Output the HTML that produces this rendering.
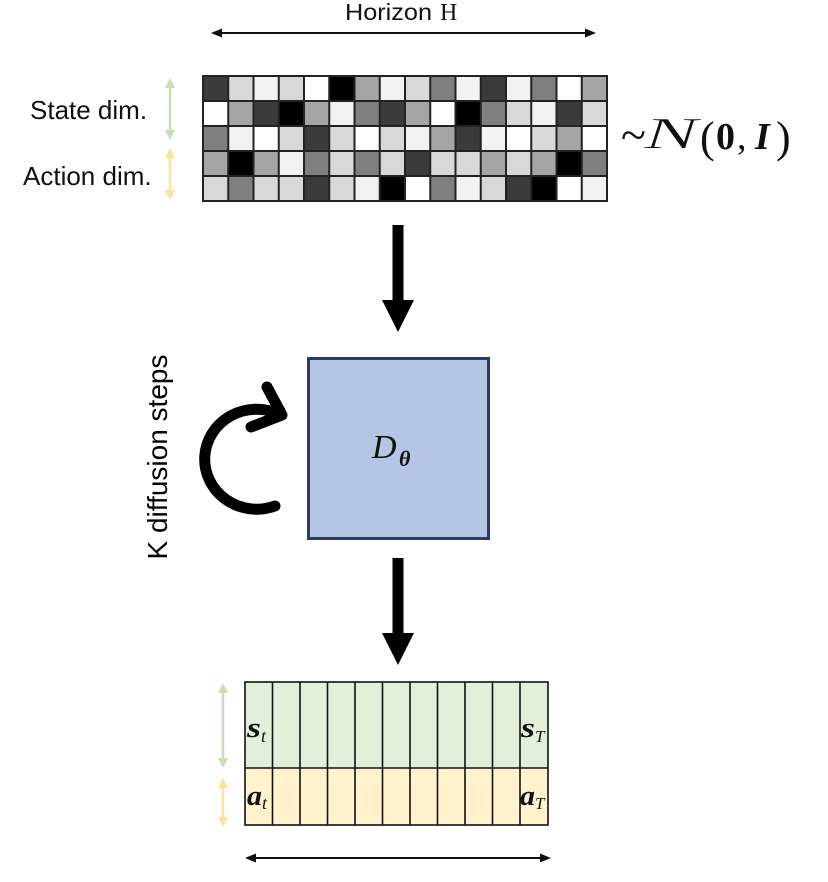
<!DOCTYPE html>
<html>
<head>
<meta charset="utf-8">
<style>
  html,body{margin:0;padding:0;background:#fff;}
  svg{display:block;}
  .sans{font-family:"Liberation Sans",Arial,sans-serif;}
  .serif{font-family:"Liberation Serif","Times New Roman",serif;}
</style>
</head>
<body>
<svg width="828" height="882" viewBox="0 0 828 882" xmlns="http://www.w3.org/2000/svg">
  <rect x="0" y="0" width="828" height="882" fill="#ffffff"/>

  <!-- Horizon H -->
  <text class="sans" x="345" y="20" font-size="23" fill="#111" textLength="87" lengthAdjust="spacingAndGlyphs">Horizon</text>
  <text class="serif" x="440" y="20" font-size="24" fill="#111">H</text>
  <line x1="219" y1="33" x2="588" y2="33" stroke="#111" stroke-width="2"/>
  <polygon points="211,33 222,28.5 222,37.5" fill="#111"/>
  <polygon points="596,33 585,28.5 585,37.5" fill="#111"/>

  <!-- Left labels -->
  <text class="sans" x="30" y="119" font-size="26" fill="#111">State dim.</text>
  <text class="sans" x="23" y="185" font-size="26" fill="#111">Action dim.</text>

  <!-- green double arrow -->
  <line x1="170" y1="86" x2="170" y2="132" stroke="#c5e0b4" stroke-width="2.5"/>
  <polygon points="170,78 165,88 175,88" fill="#c5e0b4"/>
  <polygon points="170,140 165,130 175,130" fill="#c5e0b4"/>
  <!-- yellow double arrow -->
  <line x1="170" y1="156" x2="170" y2="192" stroke="#fde39a" stroke-width="2.5"/>
  <polygon points="170,148 165,158 175,158" fill="#fde39a"/>
  <polygon points="170,200 165,190 175,190" fill="#fde39a"/>

  <!-- Noise grid -->
  <g>
    <rect x="203" y="76" width="25.5" height="25" fill="#3b3b3b"/>
    <rect x="228.25" y="76" width="25.5" height="25" fill="#d8d8d8"/>
    <rect x="253.5" y="76" width="25.5" height="25" fill="#f2f2f2"/>
    <rect x="278.75" y="76" width="25.5" height="25" fill="#d8d8d8"/>
    <rect x="304" y="76" width="25.5" height="25" fill="#ffffff"/>
    <rect x="329.25" y="76" width="25.5" height="25" fill="#000000"/>
    <rect x="354.5" y="76" width="25.5" height="25" fill="#a5a5a5"/>
    <rect x="379.75" y="76" width="25.5" height="25" fill="#f2f2f2"/>
    <rect x="405" y="76" width="25.5" height="25" fill="#d8d8d8"/>
    <rect x="430.25" y="76" width="25.5" height="25" fill="#7f7f7f"/>
    <rect x="455.5" y="76" width="25.5" height="25" fill="#f2f2f2"/>
    <rect x="480.75" y="76" width="25.5" height="25" fill="#3b3b3b"/>
    <rect x="506" y="76" width="25.5" height="25" fill="#f2f2f2"/>
    <rect x="531.25" y="76" width="25.5" height="25" fill="#7f7f7f"/>
    <rect x="556.5" y="76" width="25.5" height="25" fill="#ffffff"/>
    <rect x="581.75" y="76" width="25.25" height="25" fill="#a5a5a5"/>

    <rect x="203" y="101" width="25.5" height="25" fill="#ffffff"/>
    <rect x="228.25" y="101" width="25.5" height="25" fill="#a5a5a5"/>
    <rect x="253.5" y="101" width="25.5" height="25" fill="#3b3b3b"/>
    <rect x="278.75" y="101" width="25.5" height="25" fill="#000000"/>
    <rect x="304" y="101" width="25.5" height="25" fill="#a5a5a5"/>
    <rect x="329.25" y="101" width="25.5" height="25" fill="#f2f2f2"/>
    <rect x="354.5" y="101" width="25.5" height="25" fill="#7f7f7f"/>
    <rect x="379.75" y="101" width="25.5" height="25" fill="#3b3b3b"/>
    <rect x="405" y="101" width="25.5" height="25" fill="#a5a5a5"/>
    <rect x="430.25" y="101" width="25.5" height="25" fill="#ffffff"/>
    <rect x="455.5" y="101" width="25.5" height="25" fill="#000000"/>
    <rect x="480.75" y="101" width="25.5" height="25" fill="#7f7f7f"/>
    <rect x="506" y="101" width="25.5" height="25" fill="#d8d8d8"/>
    <rect x="531.25" y="101" width="25.5" height="25" fill="#f2f2f2"/>
    <rect x="556.5" y="101" width="25.5" height="25" fill="#3b3b3b"/>
    <rect x="581.75" y="101" width="25.25" height="25" fill="#d8d8d8"/>

    <rect x="203" y="126" width="25.5" height="25" fill="#7f7f7f"/>
    <rect x="228.25" y="126" width="25.5" height="25" fill="#f2f2f2"/>
    <rect x="253.5" y="126" width="25.5" height="25" fill="#ffffff"/>
    <rect x="278.75" y="126" width="25.5" height="25" fill="#d8d8d8"/>
    <rect x="304" y="126" width="25.5" height="25" fill="#3b3b3b"/>
    <rect x="329.25" y="126" width="25.5" height="25" fill="#d8d8d8"/>
    <rect x="354.5" y="126" width="25.5" height="25" fill="#ffffff"/>
    <rect x="379.75" y="126" width="25.5" height="25" fill="#d8d8d8"/>
    <rect x="405" y="126" width="25.5" height="25" fill="#f2f2f2"/>
    <rect x="430.25" y="126" width="25.5" height="25" fill="#a5a5a5"/>
    <rect x="455.5" y="126" width="25.5" height="25" fill="#3b3b3b"/>
    <rect x="480.75" y="126" width="25.5" height="25" fill="#f2f2f2"/>
    <rect x="506" y="126" width="25.5" height="25" fill="#ffffff"/>
    <rect x="531.25" y="126" width="25.5" height="25" fill="#d8d8d8"/>
    <rect x="556.5" y="126" width="25.5" height="25" fill="#a5a5a5"/>
    <rect x="581.75" y="126" width="25.25" height="25" fill="#ffffff"/>

    <rect x="203" y="151" width="25.5" height="25" fill="#a5a5a5"/>
    <rect x="228.25" y="151" width="25.5" height="25" fill="#000000"/>
    <rect x="253.5" y="151" width="25.5" height="25" fill="#a5a5a5"/>
    <rect x="278.75" y="151" width="25.5" height="25" fill="#f2f2f2"/>
    <rect x="304" y="151" width="25.5" height="25" fill="#7f7f7f"/>
    <rect x="329.25" y="151" width="25.5" height="25" fill="#d8d8d8"/>
    <rect x="354.5" y="151" width="25.5" height="25" fill="#7f7f7f"/>
    <rect x="379.75" y="151" width="25.5" height="25" fill="#d8d8d8"/>
    <rect x="405" y="151" width="25.5" height="25" fill="#3b3b3b"/>
    <rect x="430.25" y="151" width="25.5" height="25" fill="#d8d8d8"/>
    <rect x="455.5" y="151" width="25.5" height="25" fill="#d8d8d8"/>
    <rect x="480.75" y="151" width="25.5" height="25" fill="#a5a5a5"/>
    <rect x="506" y="151" width="25.5" height="25" fill="#d8d8d8"/>
    <rect x="531.25" y="151" width="25.5" height="25" fill="#a5a5a5"/>
    <rect x="556.5" y="151" width="25.5" height="25" fill="#000000"/>
    <rect x="581.75" y="151" width="25.25" height="25" fill="#7f7f7f"/>

    <rect x="203" y="176" width="25.5" height="25" fill="#d8d8d8"/>
    <rect x="228.25" y="176" width="25.5" height="25" fill="#7f7f7f"/>
    <rect x="253.5" y="176" width="25.5" height="25" fill="#d8d8d8"/>
    <rect x="278.75" y="176" width="25.5" height="25" fill="#d8d8d8"/>
    <rect x="304" y="176" width="25.5" height="25" fill="#3b3b3b"/>
    <rect x="329.25" y="176" width="25.5" height="25" fill="#d8d8d8"/>
    <rect x="354.5" y="176" width="25.5" height="25" fill="#f2f2f2"/>
    <rect x="379.75" y="176" width="25.5" height="25" fill="#000000"/>
    <rect x="405" y="176" width="25.5" height="25" fill="#ffffff"/>
    <rect x="430.25" y="176" width="25.5" height="25" fill="#7f7f7f"/>
    <rect x="455.5" y="176" width="25.5" height="25" fill="#f2f2f2"/>
    <rect x="480.75" y="176" width="25.5" height="25" fill="#d8d8d8"/>
    <rect x="506" y="176" width="25.5" height="25" fill="#3b3b3b"/>
    <rect x="531.25" y="176" width="25.5" height="25" fill="#000000"/>
    <rect x="556.5" y="176" width="25.5" height="25" fill="#ffffff"/>
    <rect x="581.75" y="176" width="25.25" height="25" fill="#f2f2f2"/>
  </g>
  <g stroke="#222" stroke-width="2" fill="none">
    <rect x="203" y="76" width="404" height="125"/>
    <line x1="203" y1="101" x2="607" y2="101"/>
    <line x1="203" y1="126" x2="607" y2="126"/>
    <line x1="203" y1="151" x2="607" y2="151"/>
    <line x1="203" y1="176" x2="607" y2="176"/>
    <line x1="228.25" y1="76" x2="228.25" y2="201"/>
    <line x1="253.5" y1="76" x2="253.5" y2="201"/>
    <line x1="278.75" y1="76" x2="278.75" y2="201"/>
    <line x1="304" y1="76" x2="304" y2="201"/>
    <line x1="329.25" y1="76" x2="329.25" y2="201"/>
    <line x1="354.5" y1="76" x2="354.5" y2="201"/>
    <line x1="379.75" y1="76" x2="379.75" y2="201"/>
    <line x1="405" y1="76" x2="405" y2="201"/>
    <line x1="430.25" y1="76" x2="430.25" y2="201"/>
    <line x1="455.5" y1="76" x2="455.5" y2="201"/>
    <line x1="480.75" y1="76" x2="480.75" y2="201"/>
    <line x1="506" y1="76" x2="506" y2="201"/>
    <line x1="531.25" y1="76" x2="531.25" y2="201"/>
    <line x1="556.5" y1="76" x2="556.5" y2="201"/>
    <line x1="581.75" y1="76" x2="581.75" y2="201"/>
  </g>

  <!-- ~N(0,I) -->
  <g class="serif" fill="#111">
    <text x="621" y="150" font-size="46">~</text>
    <text x="644" y="148" font-size="44" font-style="italic" stroke="#ffffff" stroke-width="0.6" textLength="54" lengthAdjust="spacingAndGlyphs">N</text>
    <text x="700" y="152" font-size="44">(</text>
    <text x="716" y="149" font-size="38" font-weight="bold">0</text>
    <text x="737" y="149" font-size="38">,</text>
    <text x="755" y="149" font-size="38" font-weight="bold" font-style="italic">I</text>
    <text x="776" y="152" font-size="44">)</text>
  </g>

  <!-- Big arrow 1 -->
  <rect x="392.5" y="225" width="11" height="77" fill="#000"/>
  <polygon points="382,300 414,300 398,332" fill="#000"/>

  <!-- D_theta box -->
  <rect x="308.5" y="358.5" width="180" height="180" fill="#b5c6e5" stroke="#2c3b5f" stroke-width="3"/>
  <text class="serif" x="372" y="458" font-size="34" font-style="italic" fill="#111">D</text>
  <text class="serif" x="399" y="466" font-size="22" font-style="italic" font-weight="bold" fill="#111">θ</text>

  <!-- Circular arrow -->
  <path d="M 275 506 A 52 50 0 1 1 281 415" fill="none" stroke="#000" stroke-width="11" stroke-linecap="round"/>
  <polyline points="267,387 282,415 251,427" fill="none" stroke="#000" stroke-width="11" stroke-linecap="round" stroke-linejoin="round"/>

  <!-- K diffusion steps -->
  <text class="sans" transform="translate(167,457) rotate(-90)" text-anchor="middle" font-size="28" fill="#000">K diffusion steps</text>

  <!-- Big arrow 2 -->
  <rect x="392.5" y="558" width="11" height="77" fill="#000"/>
  <polygon points="382,633 414,633 398,665" fill="#000"/>

  <!-- Output grid -->
  <rect x="245" y="682" width="303" height="86" fill="#e2efd9"/>
  <rect x="245" y="768" width="303" height="57" fill="#fff2cc"/>
  <g stroke="#111" stroke-width="1.6" fill="none">
    <rect x="245" y="682" width="303" height="143"/>
    <line x1="245" y1="768" x2="548" y2="768"/>
    <line x1="272.5" y1="682" x2="272.5" y2="825"/>
    <line x1="300" y1="682" x2="300" y2="825"/>
    <line x1="327.5" y1="682" x2="327.5" y2="825"/>
    <line x1="355" y1="682" x2="355" y2="825"/>
    <line x1="382.5" y1="682" x2="382.5" y2="825"/>
    <line x1="410" y1="682" x2="410" y2="825"/>
    <line x1="437.5" y1="682" x2="437.5" y2="825"/>
    <line x1="465" y1="682" x2="465" y2="825"/>
    <line x1="492.5" y1="682" x2="492.5" y2="825"/>
    <line x1="520" y1="682" x2="520" y2="825"/>
  </g>
  <g class="serif" fill="#111">
    <text x="247" y="737" font-size="28" font-weight="bold" font-style="italic" textLength="14" lengthAdjust="spacingAndGlyphs">s</text>
    <text x="261" y="742" font-size="18" font-style="italic">t</text>
    <text x="247" y="805" font-size="28" font-weight="bold" font-style="italic" textLength="15" lengthAdjust="spacingAndGlyphs">a</text>
    <text x="262" y="809" font-size="18" font-style="italic">t</text>
    <text x="521" y="737" font-size="28" font-weight="bold" font-style="italic" textLength="14" lengthAdjust="spacingAndGlyphs">s</text>
    <text x="535" y="742" font-size="17" font-style="italic">T</text>
    <text x="520" y="805" font-size="28" font-weight="bold" font-style="italic" textLength="15" lengthAdjust="spacingAndGlyphs">a</text>
    <text x="535" y="809" font-size="17" font-style="italic">T</text>
  </g>

  <!-- bottom side arrows -->
  <line x1="223" y1="691" x2="223" y2="760" stroke="#c5e0b4" stroke-width="2.5"/>
  <polygon points="223,683 218,693 228,693" fill="#c5e0b4"/>
  <polygon points="223,768 218,758 228,758" fill="#c5e0b4"/>
  <line x1="223" y1="786" x2="223" y2="819" stroke="#fde39a" stroke-width="2.5"/>
  <polygon points="223,778 218,788 228,788" fill="#fde39a"/>
  <polygon points="223,827 218,817 228,817" fill="#fde39a"/>

  <!-- bottom horizon arrow -->
  <line x1="253" y1="858" x2="543" y2="858" stroke="#111" stroke-width="2"/>
  <polygon points="245,858 256,853.5 256,862.5" fill="#111"/>
  <polygon points="551,858 540,853.5 540,862.5" fill="#111"/>
</svg>
</body>
</html>
